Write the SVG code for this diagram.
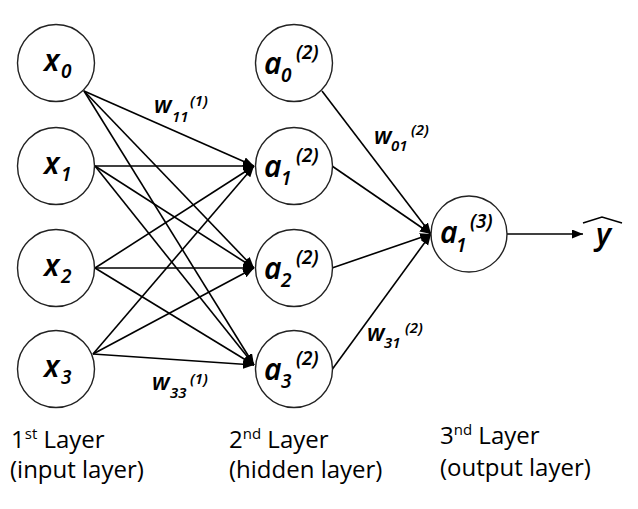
<svg xmlns="http://www.w3.org/2000/svg" width="638" height="509" viewBox="0 0 638 509">
<defs>
<marker id="ah" markerUnits="userSpaceOnUse" markerWidth="12" markerHeight="10" refX="11" refY="4.5" orient="auto">
<path d="M0,0 L11,4.5 L0,9 z" fill="#000"/>
</marker>
<style>
.n{fill:#fff;stroke:#222;stroke-width:1.4}
.c{stroke:#000;stroke-width:1.6;fill:none;marker-end:url(#ah)}
.lb{font-family:"Noto Sans","Open Sans","Liberation Sans",sans-serif;font-style:italic;font-weight:600;fill:#000}
.m{font-size:30px}
.s{font-size:19px}
.w{font-size:23px}
.ws{font-size:15px}
.ly{font-family:"Open Sans","Liberation Sans",sans-serif;font-size:24px;fill:#000}
</style>
</defs>
<rect width="638" height="509" fill="#fff"/>
<g id="connectors">
<line class="c" x1="84" y1="91" x2="254" y2="166"/>
<line class="c" x1="84" y1="91" x2="254" y2="268"/>
<line class="c" x1="84" y1="91" x2="254" y2="365"/>
<line class="c" x1="95" y1="166" x2="254" y2="166"/>
<line class="c" x1="95" y1="166" x2="254" y2="268"/>
<line class="c" x1="95" y1="166" x2="254" y2="365"/>
<line class="c" x1="95" y1="268" x2="254" y2="166"/>
<line class="c" x1="95" y1="268" x2="254" y2="268"/>
<line class="c" x1="95" y1="268" x2="254" y2="365"/>
<line class="c" x1="93" y1="354" x2="254" y2="166"/>
<line class="c" x1="93" y1="354" x2="254" y2="268"/>
<line class="c" x1="93" y1="354" x2="254" y2="365"/>
<line class="c" x1="322" y1="91" x2="431" y2="234"/>
<line class="c" x1="332" y1="166" x2="431" y2="234"/>
<line class="c" x1="332" y1="268" x2="431" y2="234"/>
<line class="c" x1="331" y1="371" x2="431" y2="234"/>
<line class="c" x1="507" y1="234" x2="583" y2="234"/>
</g>
<g id="w11" class="lb"><text class="w" x="154" y="113">w</text><text class="ws" x="172" y="122">11</text><text class="ws" x="190" y="106">(1)</text></g>
<g id="w33" class="lb"><text class="w" x="152" y="390">w</text><text class="ws" x="170" y="398">33</text><text class="ws" x="190" y="384">(1)</text></g>
<g id="w01" class="lb"><text class="w" x="374" y="144">w</text><text class="ws" x="391" y="151">01</text><text class="ws" x="411" y="135">(2)</text></g>
<g id="w31" class="lb"><text class="w" x="367" y="341">w</text><text class="ws" x="384" y="348">31</text><text class="ws" x="405" y="333">(2)</text></g>
<g id="x0"><circle class="n" cx="56" cy="63" r="38.5"/><g class="lb"><text class="m" x="44" y="71">x</text><text class="s" x="61" y="78">0</text></g></g>
<g id="x1"><circle class="n" cx="56" cy="166" r="38.5"/><g class="lb"><text class="m" x="44" y="174">x</text><text class="s" x="61" y="181">1</text></g></g>
<g id="x2"><circle class="n" cx="56" cy="268" r="38.5"/><g class="lb"><text class="m" x="44" y="276">x</text><text class="s" x="61" y="283">2</text></g></g>
<g id="x3"><circle class="n" cx="56" cy="369" r="38.5"/><g class="lb"><text class="m" x="44" y="377">x</text><text class="s" x="61" y="384">3</text></g></g>
<g id="a0"><circle class="n" cx="294" cy="63" r="38.5"/><g class="lb"><text class="m" x="264" y="74">a</text><text class="s" x="281" y="82">0</text><text class="s" x="296" y="59">(2)</text></g></g>
<g id="a1"><circle class="n" cx="294" cy="166" r="38.5"/><g class="lb"><text class="m" x="264" y="177">a</text><text class="s" x="281" y="185">1</text><text class="s" x="296" y="162">(2)</text></g></g>
<g id="a2"><circle class="n" cx="294" cy="268" r="38.5"/><g class="lb"><text class="m" x="264" y="279">a</text><text class="s" x="281" y="287">2</text><text class="s" x="296" y="264">(2)</text></g></g>
<g id="a3"><circle class="n" cx="294" cy="369" r="38.5"/><g class="lb"><text class="m" x="264" y="380">a</text><text class="s" x="281" y="388">3</text><text class="s" x="296" y="365">(2)</text></g></g>
<g id="out"><circle class="n" cx="469" cy="234" r="38"/><g class="lb"><text class="m" x="440" y="243">a</text><text class="s" x="456" y="252">1</text><text class="s" x="470" y="228">(3)</text></g></g>
<g id="yhat"><text class="lb m" x="596" y="245">y</text><path d="M583,223 L602,217 L622,223" fill="none" stroke="#000" stroke-width="1.6"/></g>
<g id="layers">
<text class="ly" x="11" y="448">1<tspan font-size="15" dy="-9">st</tspan><tspan dy="9"> Layer</tspan></text>
<text class="ly" x="10" y="478">(input layer)</text>
<text class="ly" x="229" y="448">2<tspan font-size="15" dy="-9">nd</tspan><tspan dy="9"> Layer</tspan></text>
<text class="ly" x="229" y="478">(hidden layer)</text>
<text class="ly" x="440" y="444">3<tspan font-size="15" dy="-9">nd</tspan><tspan dy="9"> Layer</tspan></text>
<text class="ly" x="440" y="476">(output layer)</text>
</g>
</svg>
